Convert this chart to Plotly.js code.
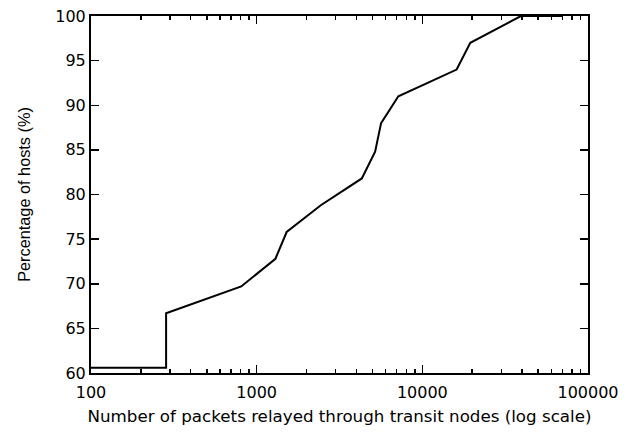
<!DOCTYPE html>
<html><head><meta charset="utf-8">
<script src="https://cdn.plot.ly/plotly-3.0.1.min.js"></script>
<style>html,body{margin:0;padding:0;background:#fff}#chart{width:632px;height:432px}</style>
</head><body><div id="chart"></div>
<script>
const packets = [100, 284, 284, 807, 1298, 1517, 2439, 4312, 5188, 5637, 7166, 16107, 19480, 39360, 70000];
const hostsPct = [60.6, 60.6, 66.7, 69.7, 72.8, 75.8, 78.8, 81.8, 84.8, 88.0, 91.0, 94.0, 97.0, 100, 100];
const xTickVals = [100, 1000, 10000, 100000];
const xTickText = ['100', '1000', '10000', '100000'];
const yTickVals = [60, 65, 70, 75, 80, 85, 90, 95, 100];

Plotly.newPlot('chart', [{
  x: packets, y: hostsPct, type: 'scatter', mode: 'lines',
  line: {color: '#000', width: 2}, showlegend: false, hoverinfo: 'skip'
}], {
  width: 632, height: 432,
  margin: {l: 91, r: 44, t: 16, b: 59},
  paper_bgcolor: '#fff', plot_bgcolor: '#fff',
  font: {family: 'DejaVu Sans, sans-serif', color: '#000', size: 16},
  xaxis: {
    type: 'log', range: [2, 5], tickvals: xTickVals, ticktext: xTickText,
    ticks: 'inside', ticklen: 8, tickwidth: 1.5, tickcolor: '#000',
    showline: true, linecolor: '#000', linewidth: 2, mirror: 'ticks',
    showgrid: false, zeroline: false,
    minor: {ticks: 'inside', ticklen: 4, tickwidth: 1.5, tickcolor: '#000', dtick: 'D1', showgrid: false},
    tickfont: {size: 16, family: 'DejaVu Sans, sans-serif'}, ticklabelstandoff: 4,
    title: {text: 'Number of packets relayed through transit nodes (log scale)', font: {size: 16.7, family: 'DejaVu Sans, sans-serif'}, standoff: 9}
  },
  yaxis: {
    range: [60, 100], tickvals: yTickVals,
    ticks: 'inside', ticklen: 8, tickwidth: 1.5, tickcolor: '#000',
    showline: true, linecolor: '#000', linewidth: 2, mirror: 'ticks',
    showgrid: false, zeroline: false,
    tickfont: {size: 16, family: 'DejaVu Sans, sans-serif'},
    title: {text: 'Percentage of hosts (%)', font: {size: 16.3, family: 'Liberation Sans, Arial, sans-serif'}, standoff: 21}
  }
}, {staticPlot: true, displayModeBar: false});
</script></body></html>
